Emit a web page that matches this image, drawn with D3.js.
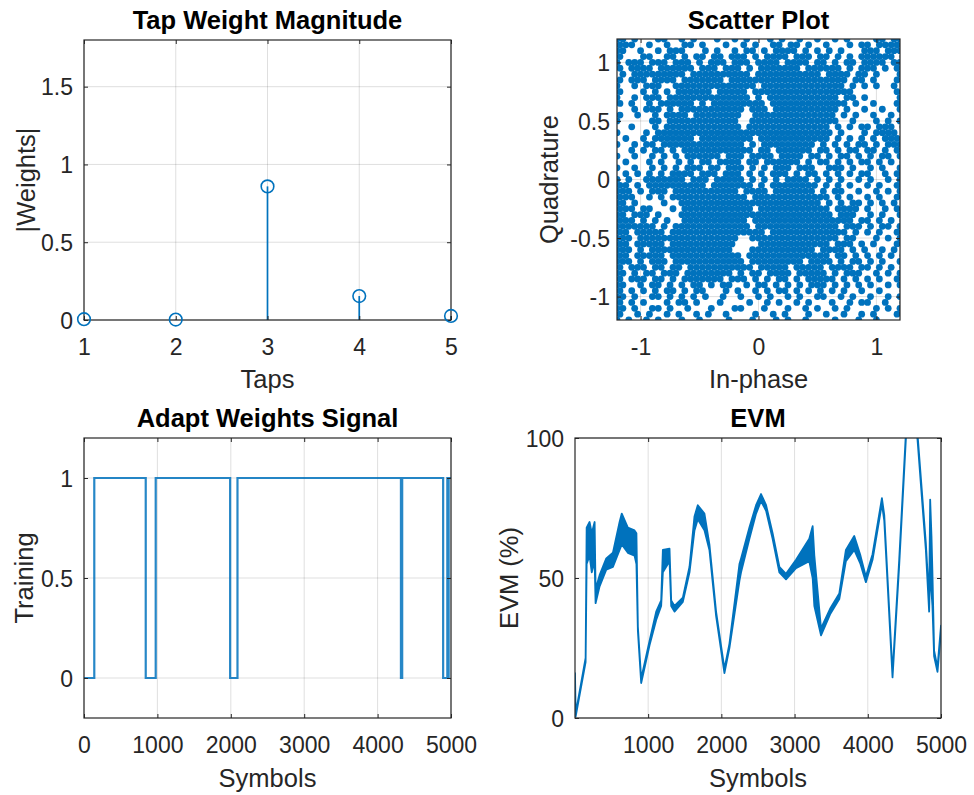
<!DOCTYPE html>
<html><head><meta charset="utf-8">
<script src="https://cdn.jsdelivr.net/npm/d3@7"></script>
<style>body{margin:0;background:#fff}svg{display:block}</style>
</head><body><svg id="c" width="974" height="795"></svg>
<script>
// ---------- DATA ----------
const tapIndex = [1, 2, 3, 4, 5];
const tapMag = [0.005, 0.003, 0.859, 0.154, 0.026];
const tapXTicks = [1, 2, 3, 4, 5];
const tapYTicks = [0, 0.5, 1, 1.5];

// scatter: occupancy, 49x49 cells, step 0.05 from -1.2 to 1.2
// row 0 = Quadrature 1.2 (top), column 0 = In-phase -1.2 (left); odd rows sit half a cell to the right
const scatterRows = [
"##.#... ##..#.# ...#..# .#...#. #..#..# ..#.#.. ..##.##",
"###..#. .#..##. #...#.. #.#..## .##.#.. #...#.# #.#####",
"##..#.. #.###.. .#.#..# .##.#.# ###.#.# .#.#... ###.###",
"#...##. .##.#.# #.##.## #.#.### #.###.# #.#.#.# #####.#",
"#.###.# ##.###. #.###.# ##.#### .####.# #.#.##. ####.##",
"#.####. ######. ###.### .#.#### ###.### ###.#.# ##.#.#.",
".#.#### #####.# ####### ##.#### ####### .####.# #.#...#",
"#.###.# ###.### ####.## ####### ####### ####.## .#...##",
"#..#.## #..#### ####### ###.### ####### ####.#. #.#..#.",
"#...#.# .#.#### ##.#### #.##### ####### #####.. .....#.",
"#..#.## #.##### ####### ##.#.## ####### ###.##. #.....#",
"#.#..#. ######. #.##### ####.## ####### ####.#. .#...#.",
"...#.## #.#.### ####### #.###.# ####### ###.#.. #..#..#",
"#..#..# .####.# ####### ..##### ####### ##.#.#. .#..#.#",
"#.....# #.##### ####### ..##### ####### ###..#. ..#.#.#",
"..#...# .###### ####### .###### ####### #.#.#.# #.###.#",
"#....#. ####### ####### ####### ####### ##.#... #.####.",
".#..#.# ######. ####### ##.#### ####### #.#.#.# .#.####",
"#..#.## .###### ####### #.#.### ######. #.#.#.# #.#.###",
"..#.#.# #.#.### ####### ##.##.# #####.# #.#.##. ##.#.##",
"#..#..# .#.#.## ####.## #.####. ####.## .#.##.# .#.##.#",
".#...#. #..#.#. ##.#### .##.### ###.#.# #.#.#.# #.#.#.#",
"#..#..# .#.#.## #.##.## #.#.#.# ##.###. .###.#. .#.#..#",
".#.#.#. #.####. ###.### .#.#.## #.#.##. #.#.#.# #..#.#.",
"#.#..## #####.# ##.#### #.#.#.# .####.# .#.#..# .#..#.#",
"##.#.## ####### #.##### ##.#.## ######. #.#.#.. #.#..#.",
"###.#.# ##.#### ####### .####.# ######. #.##..# ..#.#.#",
"###..#. #.##### ####### #.##### ####### #.#.#.. #.#..##",
"##.#... .#..### ####### ####### ####### .#.#.## .#.#.#.",
"###.##. ..#.### ####### ##.#### ####### #.####. #..#.##",
"##.###. #...### ####### ####### ####### ##.###. .#.#..#",
"###.#.# .#..### ####### #.##### ####### #####.# #.#.#.#",
"####### .#.#### ####### ##.#### ####### ###.### .#.##.#",
"##.#### #.##### ####### ####.## ####### ####.#. #.#..##",
"###.### ####### ####### ..##### ####### ###.##. ..#.#.#",
"##.#### #.##### ######. ...#### ####### #.###.# .#...#.",
"###.#.# ####### ######. ..##### ######. ####.#. #..#.#.",
"##.#### #.##### ####### .###### ####### #.##.#. #.#.#.#",
"###.#.# ##.#### ####### #.##### ####.## ##.#.## .#.#..#",
"#.###.# #.##.## ####### ##.#### #.##### .####.# #.#.#.#",
"##.#.## .###.## ######. #.##.## ##.#### #.#.### ..#.#.#",
"#.###.# #.#.### ####.## #.#.#.# #.#.### ##.#.#. #.#..#.",
"##..#.# #.#.#.# #.#.##. .#.##.# .#.#.## #.#.#.# .#..#.#",
"#.#.#.# .##.#.# #...#.# ..#.#.# #.#.#.# .#.#..# ..#...#",
"##.#..# #.#.#.# .#..#.. #..#.#. .#.#..# #..#.#. .#..#.#",
"#.#.#.. .#.##.# ...#... .#..#.# ..#.#.. .#..#.# #..#..#",
"##.#..# #.#..#. ..#...# #...#.. .#..#.# ..#.#.. ..#.#.#",
"#..#.#. .#.#..# .#..#.. ..#..#. #...#.. #..#..# .#...#.",
"#.#..#. #...#.. #....#. ..#...# .#..#.. ..#...# ..#...."
];
const scatterStart = -1.2, scatterStep = 0.05;
const scatterTicks = [-1, -0.5, 0, 0.5, 1];
const scatterXTicks = [-1, 0, 1];

// adaptive weights (training) signal: level held from each start symbol
const trainStart = [0, 140, 841, 977, 1991, 2091, 4318, 4335, 4893, 4950, 4958, 4968, 5000];
const trainLevel = [0, 1, 0, 1, 0, 1, 0, 1, 0, 1, 0, 1, 1];
const trainXTicks = [0, 1000, 2000, 3000, 4000, 5000];
const trainYTicks = [0, 0.5, 1];

// EVM (%) : symbol, lower and upper envelope of the (noisy) trace
const evmSym = [1, 10, 146, 160, 200, 230, 269, 282, 337, 428, 519, 610, 640, 723, 814, 840, 860, 905, 1019, 1110, 1178, 1201, 1292, 1315, 1360, 1474, 1565, 1633, 1678, 1769, 1837, 1928, 2042, 2110, 2247, 2269, 2383, 2474, 2542, 2611, 2700, 2792, 2883, 3020, 3201, 3247, 3270, 3361, 3485, 3611, 3701, 3815, 3900, 3974, 4065, 4193, 4225, 4338, 4429, 4520, 4600, 4679, 4793, 4838, 4852, 4870, 4883, 4906, 4952, 5000];
const evmLo  = [15, 0.5, 20, 55, 58, 52, 56, 41, 47, 53, 54, 60, 62, 59, 58, 55, 31, 12.5, 26, 35, 40, 52, 56, 40, 38, 41.5, 52, 67, 71, 67, 60, 36.5, 16, 25, 49, 52, 64, 73, 77.5, 74, 64, 52, 49.5, 53.5, 56, 50, 40, 29.5, 37, 42.5, 56, 60, 55, 48.5, 56.5, 76.5, 70.5, 14.5, 54.5, 99.5, 117, 99.5, 60, 38, 55, 45, 40, 22, 16.5, 31];
const evmHi  = [16, 1.5, 21.5, 68, 70, 66, 70, 46, 51, 57, 59, 70, 73, 68, 67, 66, 32.5, 14, 27.5, 38, 42, 60, 60.5, 42, 40, 43, 54, 72, 76, 73, 62, 38, 17.5, 26.5, 55, 57, 68, 76, 80, 76, 66, 54, 51.5, 56.5, 64, 68.5, 58, 32, 39, 44.5, 60, 65, 58, 50.5, 58.5, 78.5, 72.5, 16, 56.5, 101.5, 119, 101.5, 62.5, 42, 78, 65, 52, 24, 18, 33];
const evmXTicks = [1000, 2000, 3000, 4000, 5000];
const evmYTicks = [0, 50, 100];

// ---------- DRAW ----------
const svg = d3.select("#c");
const BLUE = "#0072BD", AX = "#262626";
const FONT = "'Liberation Sans', Arial, Helvetica, sans-serif";
let clipN = 0;

function panel(o) {
  const x = d3.scaleLinear().domain(o.xd).range([o.x0, o.x1]);
  const y = d3.scaleLinear().domain(o.yd).range([o.y1, o.y0]);
  const g = svg.append("g");
  const grid = g.append("g").attr("stroke", AX).attr("stroke-opacity", 0.15).attr("stroke-width", 1);
  grid.selectAll(".gx").data(o.xgrid).join("line")
    .attr("x1", d => x(d)).attr("x2", d => x(d)).attr("y1", o.y0).attr("y2", o.y1);
  grid.selectAll(".gy").data(o.ygrid).join("line")
    .attr("y1", d => y(d)).attr("y2", d => y(d)).attr("x1", o.x0).attr("x2", o.x1);
  const id = "clip" + (clipN++);
  svg.append("clipPath").attr("id", id).append("rect")
    .attr("x", o.x0).attr("y", o.y0).attr("width", o.x1 - o.x0).attr("height", o.y1 - o.y0);
  const plot = g.append("g").attr("clip-path", `url(#${id})`);
  const free = g.append("g");
  function finish() {
    const styleAxis = sel => {
      sel.select(".domain").remove();
      sel.selectAll("line").attr("stroke", AX);
      sel.selectAll("text").attr("fill", AX).attr("font-size", 23).attr("font-family", FONT);
      sel.attr("font-size", null).attr("font-family", null);
    };
    const top = svg.append("g");
    top.append("g").attr("transform", `translate(0,${o.y1})`)
      .call(d3.axisBottom(x).tickValues(o.xticks).tickFormat(o.xfmt || d3.format("")).tickSizeInner(-4).tickSizeOuter(0).tickPadding(18.7))
      .call(styleAxis);
    top.append("g").attr("transform", `translate(0,${o.y0})`)
      .call(d3.axisTop(x).tickValues(o.xticks).tickFormat("").tickSizeInner(-4).tickSizeOuter(0))
      .call(styleAxis);
    top.append("g").attr("transform", `translate(${o.x0},0)`)
      .call(d3.axisLeft(y).tickValues(o.yticks).tickFormat(o.yfmt || d3.format("")).tickSizeInner(-4).tickSizeOuter(0).tickPadding(o.ypad))
      .call(styleAxis)
      .call(s => s.selectAll("text").attr("dy", "0.36em"));
    top.append("g").attr("transform", `translate(${o.x1},0)`)
      .call(d3.axisRight(y).tickValues(o.yticks).tickFormat("").tickSizeInner(-4).tickSizeOuter(0))
      .call(styleAxis);
    top.append("rect").attr("x", o.x0).attr("y", o.y0).attr("width", o.x1 - o.x0).attr("height", o.y1 - o.y0)
      .attr("fill", "none").attr("stroke", AX).attr("stroke-width", 1.2);
    const cx = (o.x0 + o.x1) / 2, cy = (o.y0 + o.y1) / 2;
    top.append("text").attr("x", cx).attr("y", o.titleY).attr("text-anchor", "middle")
      .attr("font-family", FONT).attr("font-weight", "bold").attr("font-size", 25.5).attr("fill", "#000").text(o.title);
    top.append("text").attr("x", cx).attr("y", o.xlabY).attr("text-anchor", "middle")
      .attr("font-family", FONT).attr("font-size", 25.5).attr("fill", AX).text(o.xlabel);
    top.append("text").attr("transform", `translate(${o.ylabX},${cy}) rotate(-90)`).attr("text-anchor", "middle")
      .attr("font-family", FONT).attr("font-size", 25.5).attr("fill", AX).text(o.ylabel);
  }
  return { x, y, plot, free, finish };
}

const minusFmt = d => (d < 0 ? "-" : "") + d3.format("")(Math.abs(d));

// 1. Tap Weight Magnitude
{
  const p = panel({ x0: 84, x1: 451, y0: 40, y1: 320, xd: [1, 5], yd: [0, 1.8],
    xticks: tapXTicks, yticks: tapYTicks, xgrid: tapXTicks, ygrid: tapYTicks, ypad: 11,
    title: "Tap Weight Magnitude", titleY: 29, xlabel: "Taps", xlabY: 388, ylabel: "|Weights|", ylabX: 35 });
  const d = tapIndex.map((t, i) => ({ t, v: tapMag[i] }));
  p.free.selectAll(".stem").data(d).join("line")
    .attr("x1", e => p.x(e.t)).attr("x2", e => p.x(e.t)).attr("y1", p.y(0)).attr("y2", e => p.y(e.v))
    .attr("stroke", BLUE).attr("stroke-width", 1.7);
  p.finish();
  svg.append("g").selectAll("circle").data(d).join("circle")
    .attr("cx", e => p.x(e.t)).attr("cy", e => p.y(e.v)).attr("r", 6.3)
    .attr("fill", "none").attr("stroke", BLUE).attr("stroke-width", 1.6);
}

// 2. Scatter Plot
{
  const p = panel({ x0: 617, x1: 900, y0: 39, y1: 320, xd: [-1.2, 1.2], yd: [-1.2, 1.2],
    xticks: scatterXTicks, yticks: scatterTicks, xgrid: scatterXTicks, ygrid: scatterTicks, ypad: 7,
    xfmt: minusFmt, yfmt: minusFmt,
    title: "Scatter Plot", titleY: 29, xlabel: "In-phase", xlabY: 388, ylabel: "Quadrature", ylabX: 558 });
  const pts = [];
  scatterRows.forEach((row, j) => {
    const r = row.replace(/ /g, "");
    const shift = (j % 2) * scatterStep / 2;
    for (let i = 0; i < r.length; i++) if (r[i] === "#")
      pts.push([scatterStart + scatterStep * i + shift, -scatterStart - scatterStep * j]);
  });
  p.plot.selectAll("circle").data(pts).join("circle")
    .attr("cx", d => p.x(d[0])).attr("cy", d => p.y(d[1])).attr("r", 3.4).attr("fill", BLUE);
  p.finish();
}

// 3. Adapt Weights Signal
{
  const p = panel({ x0: 84, x1: 451, y0: 438, y1: 718, xd: [0, 5000], yd: [-0.2, 1.2],
    xticks: trainXTicks, yticks: trainYTicks, xgrid: trainXTicks, ygrid: trainYTicks, ypad: 11,
    title: "Adapt Weights Signal", titleY: 427, xlabel: "Symbols", xlabY: 787, ylabel: "Training", ylabX: 33 });
  const d = trainStart.map((s, i) => [s, trainLevel[i]]);
  p.plot.append("path").datum(d)
    .attr("d", d3.line().x(e => p.x(e[0])).y(e => p.y(e[1])).curve(d3.curveStepAfter))
    .attr("fill", "none").attr("stroke", BLUE).attr("stroke-opacity", 0.85).attr("stroke-width", 2.2);
  p.finish();
}

// 4. EVM
{
  const p = panel({ x0: 575, x1: 941, y0: 438, y1: 718, xd: [1, 5000], yd: [0, 100],
    xticks: evmXTicks, yticks: evmYTicks, xgrid: evmXTicks, ygrid: evmYTicks, ypad: 11,
    title: "EVM", titleY: 427, xlabel: "Symbols", xlabY: 787, ylabel: "EVM (%)", ylabX: 518 });
  const d = evmSym.map((s, i) => ({ s, lo: evmLo[i], hi: evmHi[i] }));
  p.plot.append("path").datum(d)
    .attr("d", d3.area().x(e => p.x(e.s)).y0(e => p.y(e.lo)).y1(e => p.y(e.hi)))
    .attr("fill", BLUE).attr("stroke", BLUE).attr("stroke-width", 1.8).attr("stroke-linejoin", "round");
  p.finish();
}
</script></body></html>
